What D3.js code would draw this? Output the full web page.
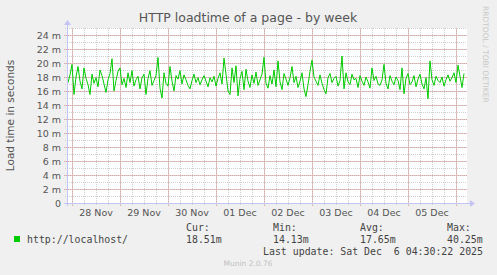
<!DOCTYPE html>
<html>
<head>
<meta charset="utf-8">
<script src="https://cdn.jsdelivr.net/npm/d3@7"></script>
<style>
  body { margin: 0; background: #f0f0f0; }
  svg { display: block; }
  text { font-family: "DejaVu Sans", sans-serif; fill: #555; }
  .mono { font-family: "DejaVu Sans Mono", monospace; fill: #444; }
</style>
</head>
<body>
<div id="chart"></div>
<script>
// hourly samples, first one at 27 Nov 22:00
var startTime = new Date(2025, 10, 27, 22, 0);
var loadtime = [
  17.2, 18.3, 19.8, 15.5, 18.0, 19.5, 17.4, 16.3, 19.3, 17.8, 16.9, 15.5, 18.4, 17.1, 17.9, 16.6, 19.0, 18.2, 17.0, 15.8, 17.6, 18.5, 20.6, 16.0,
  17.5, 18.8, 19.3, 16.9, 17.8, 16.5, 18.6, 17.2, 18.9, 16.7, 17.6, 18.1, 16.3, 17.9, 18.4, 15.5, 17.8, 18.9, 16.8, 17.5, 18.2, 20.8, 16.4, 15.0,
  18.6, 17.1, 16.7, 19.5, 17.4, 16.0, 18.2, 17.7, 18.9, 17.0, 18.3, 17.6, 16.8, 16.3, 17.5, 18.4, 17.2, 17.9, 16.9, 17.6, 18.2, 17.4, 16.6, 17.9,
  17.3, 18.1, 16.7, 17.8, 18.6, 17.0, 20.7, 18.4, 16.0, 15.5, 19.3, 17.2, 19.6, 15.3, 17.8, 18.8, 16.2, 19.1, 17.4, 16.5, 18.3, 17.1, 18.7, 16.8,
  17.6, 18.4, 20.8, 17.1, 16.4, 18.2, 17.0, 19.0, 16.6, 20.3, 17.3, 16.2, 18.5, 17.7, 16.8, 17.9, 19.5, 17.2, 18.1, 16.5, 17.4, 18.6, 16.3, 15.2,
  16.9, 18.8, 20.4, 18.0, 17.4, 16.8, 18.3, 17.1, 16.2, 15.6, 17.9, 18.5, 17.2, 17.8, 18.1, 16.7, 17.5, 21.0, 16.3, 18.6, 17.3, 16.9, 18.4, 17.6,
  17.8, 16.5, 18.2, 17.4, 16.8, 18.0, 17.3, 16.4, 19.3, 17.5, 18.1, 17.0, 16.8, 17.6, 19.8, 17.1, 16.3, 18.2, 17.4, 16.9, 18.0, 17.5, 16.2, 19.3,
  15.6, 17.8, 18.5, 16.9, 17.3, 18.2, 16.6, 17.7, 18.4, 17.0, 16.3, 17.9, 14.9, 20.3, 17.6, 16.8, 18.1, 17.5, 17.2, 18.0, 16.7, 17.6, 18.3, 17.4,
  17.9, 18.6, 17.2, 19.7, 18.1, 16.5, 18.5
];
var yTicks = [0, 2, 4, 6, 8, 10, 12, 14, 16, 18, 20, 22, 24];
var dayLabels = ["28 Nov", "29 Nov", "30 Nov", "01 Dec", "02 Dec", "03 Dec", "04 Dec", "05 Dec"];
var legendNames = ["Cur:", "Min:", "Avg:", "Max:"];
var legendValues = ["18.51m", "14.13m", "17.65m", "40.25m"];

var width = 497, height = 275;
var margin = {top: 28, left: 67, right: 30, bottom: 72};
var plotW = width - margin.left - margin.right;   // 400
var plotH = height - margin.top - margin.bottom;  // 175

var svg = d3.select("#chart").append("svg")
    .attr("width", width)
    .attr("height", height);

var x = d3.scaleTime()
    .domain([new Date(2025, 10, 27, 21, 30), new Date(2025, 11, 6, 5, 30)])
    .range([margin.left, margin.left + plotW]);
var y = d3.scaleLinear()
    .domain([0, 25])
    .range([margin.top + plotH, margin.top]);

var data = loadtime.map(function(v, i){
    return {t: d3.timeHour.offset(startTime, i), v: v};
});

// white canvas
svg.append("rect")
    .attr("x", margin.left).attr("y", margin.top)
    .attr("width", plotW).attr("height", plotH)
    .attr("fill", "#fff");

// minor grid
var minorX = d3.timeHour.every(6).range(x.domain()[0], x.domain()[1]);
svg.append("g").selectAll("line").data(minorX).enter().append("line")
    .attr("x1", function(d){ return Math.round(x(d)) + 0.5; })
    .attr("x2", function(d){ return Math.round(x(d)) + 0.5; })
    .attr("y1", y(0) + 2).attr("y2", y(25))
    .attr("stroke", "#cfcfcf").attr("stroke-dasharray", "1,1");
svg.append("g").selectAll("line").data(d3.range(1, 26)).enter().append("line")
    .attr("x1", margin.left - 2).attr("x2", margin.left + plotW)
    .attr("y1", function(d){ return Math.round(y(d)) + 0.5; })
    .attr("y2", function(d){ return Math.round(y(d)) + 0.5; })
    .attr("stroke", "#cfcfcf").attr("stroke-dasharray", "1,1");

// major grid
var days = d3.timeDay.range(x.domain()[0], x.domain()[1]);
svg.append("g").selectAll("line").data(days).enter().append("line")
    .attr("x1", function(d){ return Math.round(x(d)) + 0.5; })
    .attr("x2", function(d){ return Math.round(x(d)) + 0.5; })
    .attr("y1", y(0) + 3).attr("y2", y(25))
    .attr("stroke", "#e8a3a3").attr("stroke-dasharray", "1,1");
svg.append("g").selectAll("line").data(yTicks.slice(1)).enter().append("line")
    .attr("x1", margin.left - 3).attr("x2", margin.left + plotW)
    .attr("y1", function(d){ return Math.round(y(d)) + 0.5; })
    .attr("y2", function(d){ return Math.round(y(d)) + 0.5; })
    .attr("stroke", "#e8a3a3").attr("stroke-dasharray", "1,1");

// y labels
svg.append("g").selectAll("text").data(yTicks).enter().append("text")
    .attr("x", margin.left - 6)
    .attr("y", function(d){ return y(d) + 3.5; })
    .attr("text-anchor", "end")
    .style("font-size", "9.5px")
    .text(function(d){ return d == 0 ? "0" : d + " m"; });

// x labels at noon
svg.append("g").selectAll("text").data(days).enter().append("text")
    .attr("x", function(d){ return x(d3.timeHour.offset(d, 12)); })
    .attr("y", y(0) + 13)
    .attr("text-anchor", "middle")
    .style("font-size", "9.5px")
    .text(function(d, i){ return dayLabels[i]; });

// the series
var line = d3.line()
    .x(function(d){ return x(d.t); })
    .y(function(d){ return y(d.v); });
svg.append("path")
    .datum(data)
    .attr("d", line)
    .attr("fill", "none")
    .attr("stroke", "#00cc00")
    .attr("stroke-width", 1);

// axes with arrows
var axisColor = "#c4c4f4";
svg.append("line")
    .attr("x1", margin.left + 0.5).attr("x2", margin.left + 0.5)
    .attr("y1", y(0) + 3).attr("y2", margin.top - 4)
    .attr("stroke", axisColor);
svg.append("path")
    .attr("d", "M" + (margin.left - 3) + "," + (margin.top - 3) + "L" + (margin.left + 0.5) + "," + (margin.top - 8) + "L" + (margin.left + 4) + "," + (margin.top - 3) + "Z")
    .attr("fill", axisColor);
svg.append("line")
    .attr("x1", margin.left - 3).attr("x2", margin.left + plotW + 4)
    .attr("y1", y(0) + 0.5).attr("y2", y(0) + 0.5)
    .attr("stroke", axisColor);
svg.append("path")
    .attr("d", "M" + (margin.left + plotW + 3) + "," + (y(0) - 3) + "L" + (margin.left + plotW + 8) + "," + (y(0) + 0.5) + "L" + (margin.left + plotW + 3) + "," + (y(0) + 4) + "Z")
    .attr("fill", axisColor);

// title and axis title
svg.append("text")
    .attr("x", 248).attr("y", 22)
    .attr("text-anchor", "middle")
    .style("font-size", "12.5px")
    .text("HTTP loadtime of a page - by week");
svg.append("text")
    .attr("transform", "translate(14," + (margin.top + plotH / 2) + ") rotate(-90)")
    .attr("text-anchor", "middle")
    .style("font-size", "10.5px")
    .text("Load time in seconds");
svg.append("text")
    .attr("transform", "translate(483,6) rotate(90)")
    .style("font-size", "7.5px")
    .style("fill", "#c8c8c8")
    .text("RRDTOOL / TOBI OETIKER");

// legend
svg.append("rect")
    .attr("x", 14).attr("y", 236)
    .attr("width", 6).attr("height", 6)
    .attr("fill", "#00cc00");
svg.append("text").attr("class", "mono")
    .attr("x", 27).attr("y", 243)
    .style("font-size", "9.9px")
    .text("http://localhost/");
var legendX = [186, 273, 360, 447];
var legend = svg.append("g").selectAll("g").data(legendNames).enter().append("g");
legend.append("text").attr("class", "mono")
    .attr("x", function(d, i){ return legendX[i]; })
    .attr("y", 231)
    .style("font-size", "9.9px")
    .text(function(d){ return d; });
legend.append("text").attr("class", "mono")
    .attr("x", function(d, i){ return legendX[i]; })
    .attr("y", 243)
    .style("font-size", "9.9px")
    .text(function(d, i){ return legendValues[i]; });
svg.append("text").attr("class", "mono")
    .attr("x", 483).attr("y", 255)
    .attr("text-anchor", "end")
    .style("font-size", "9.9px")
    .style("white-space", "pre")
    .attr("xml:space", "preserve")
    .text("Last update: Sat Dec  6 04:30:22 2025");
svg.append("text")
    .attr("x", 248).attr("y", 266)
    .attr("text-anchor", "middle")
    .style("font-size", "7.5px")
    .style("fill", "#c0c0c0")
    .text("Munin 2.0.76");
</script>
</body>
</html>
